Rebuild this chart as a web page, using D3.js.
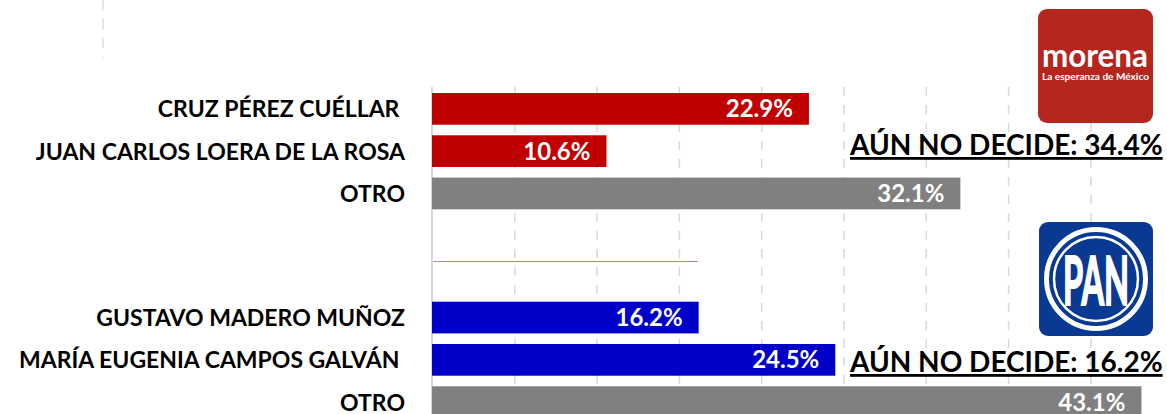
<!DOCTYPE html>
<html>
<head>
<meta charset="utf-8">
<script src="https://cdn.jsdelivr.net/npm/d3@7"></script>
<style>
  body { margin: 0; background: #fff; }
  svg { display: block; }
  text { font-family: Lato, "Open Sans", sans-serif; font-weight: bold; }
</style>
</head>
<body>
<svg width="1167" height="414"></svg>
<script>
// morena block
var namesA = ['CRUZ PÉREZ CUÉLLAR ', 'JUAN CARLOS LOERA DE LA ROSA', 'OTRO'];
var valuesA = [22.9, 10.6, 32.1];
var colorsA = ['#c00000', '#c00000', '#808080'];
// PAN block
var namesB = ['GUSTAVO MADERO MUÑOZ', 'MARÍA EUGENIA CAMPOS GALVÁN ', 'OTRO'];
var valuesB = [16.2, 24.5, 43.1];
var colorsB = ['#0000c8', '#0000c8', '#808080'];
var undecided = [34.4, 16.2];
var gridTicks = [5, 10, 15, 20, 25, 30, 35, 40];

var svg = d3.select('svg');
var width = +svg.attr('width');
var height = +svg.attr('height');

var x = d3.scaleLinear()
  .domain([0, 45])
  .range([432, 1172.7]);

// stray dashed line left over top-left
svg.append('line')
  .attr('x1', 103).attr('x2', 103)
  .attr('y1', 0).attr('y2', 58)
  .attr('stroke', '#dcdcdc')
  .attr('stroke-width', 1.5)
  .attr('stroke-dasharray', '10,9');

// dashed grid
var grid = svg.append('g')
  .attr('transform', 'translate(0,87)')
  .call(d3.axisTop(x).tickValues(gridTicks).tickSize(-(height - 87)).tickFormat(''));
grid.select('.domain').remove();
grid.selectAll('line')
  .attr('stroke', '#d9d9d9')
  .attr('stroke-width', 1.5)
  .attr('stroke-dasharray', '9,9');

// thin blue line of lower chart
svg.append('line')
  .attr('x1', x(0)).attr('x2', 698)
  .attr('y1', 261.5).attr('y2', 261.5)
  .attr('stroke', '#8f8fe8')
  .attr('stroke-width', 1);

// value axis base line
svg.append('line')
  .attr('x1', x(0)).attr('x2', x(0))
  .attr('y1', 87).attr('y2', height)
  .attr('stroke', '#d9d9d9')
  .attr('stroke-width', 2);

function drawGroup(names, values, colors, top, bottom) {
  var y = d3.scaleBand()
    .domain(names)
    .range([top, bottom])
    .paddingInner(0.25)
    .paddingOuter(0.125);

  var g = svg.append('g');

  g.selectAll('rect')
    .data(values)
    .enter().append('rect')
    .attr('x', x(0))
    .attr('y', function(d, i) { return y(names[i]); })
    .attr('width', function(d) { return x(d) - x(0); })
    .attr('height', y.bandwidth())
    .attr('fill', function(d, i) { return colors[i]; });

  g.selectAll('.val')
    .data(values)
    .enter().append('text')
    .attr('class', 'val')
    .attr('x', function(d) { return x(d) - 16; })
    .attr('y', function(d, i) { return y(names[i]) + y.bandwidth() / 2 + 8.5; })
    .attr('text-anchor', 'end')
    .attr('fill', '#fff')
    .attr('font-size', 24)
    .text(function(d) { return d.toFixed(1) + '%'; });

  g.selectAll('.name')
    .data(names)
    .enter().append('text')
    .attr('class', 'name')
    .attr('x', 405)
    .attr('y', function(d) { return y(d) + y.bandwidth() / 2 + 8.5; })
    .attr('text-anchor', 'end')
    .attr('fill', '#000')
    .attr('font-size', 23)
    .style('white-space', 'pre')
    .text(function(d) { return d; });
}

drawGroup(namesA, valuesA, colorsA, 87.7, 214.6);
drawGroup(namesB, valuesB, colorsB, 296.4, 423.3);

// undecided notes
[[undecided[0], 155], [undecided[1], 372]].forEach(function(u) {
  svg.append('text')
    .attr('x', 850)
    .attr('y', u[1])
    .attr('font-size', 28)
    .attr('fill', '#000')
    .attr('text-decoration', 'underline')
    .text('AÚN NO DECIDE: ' + u[0].toFixed(1) + '%');
});

// morena logo
var m = svg.append('g').attr('transform', 'translate(1038,9)');
m.append('rect')
  .attr('width', 115).attr('height', 114)
  .attr('rx', 9)
  .attr('fill', '#b5261e');
m.append('text')
  .attr('x', 4).attr('y', 58)
  .attr('font-size', 32)
  .attr('fill', '#fff')
  .attr('textLength', 106)
  .attr('lengthAdjust', 'spacingAndGlyphs')
  .text('morena');
m.append('text')
  .attr('x', 4).attr('y', 71)
  .attr('font-size', 10)
  .attr('fill', '#fff')
  .attr('textLength', 107)
  .attr('lengthAdjust', 'spacingAndGlyphs')
  .text('La esperanza de México');

// PAN logo
var p = svg.append('g').attr('transform', 'translate(1039,222)');
p.append('rect')
  .attr('width', 114).attr('height', 114)
  .attr('rx', 9)
  .attr('fill', '#0a3994');
p.append('circle')
  .attr('cx', 57).attr('cy', 57).attr('r', 49.5)
  .attr('fill', 'none')
  .attr('stroke', '#fff')
  .attr('stroke-width', 5);
p.append('circle')
  .attr('cx', 57).attr('cy', 57).attr('r', 42)
  .attr('fill', 'none')
  .attr('stroke', '#fff')
  .attr('stroke-width', 2.5);
p.append('text')
  .attr('x', 24).attr('y', 83)
  .attr('font-family', '"Liberation Sans Narrow", "Liberation Sans", sans-serif')
  .attr('font-size', 66)
  .attr('fill', '#fff')
  .attr('stroke', '#fff')
  .attr('stroke-width', 2)
  .attr('textLength', 66)
  .attr('lengthAdjust', 'spacingAndGlyphs')
  .text('PAN');
</script>
</body>
</html>
